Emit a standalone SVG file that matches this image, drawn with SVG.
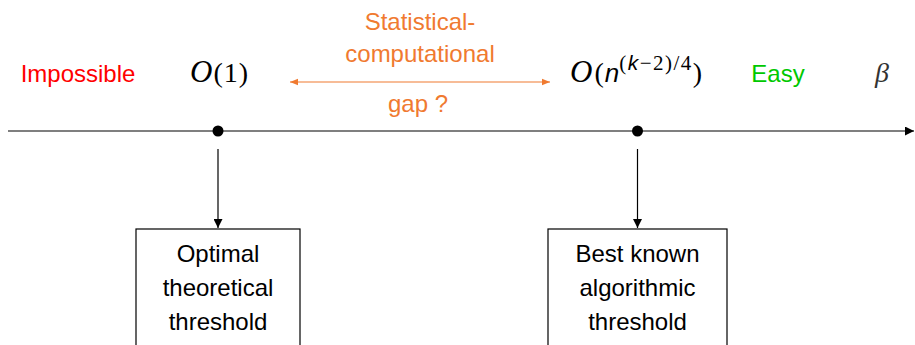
<svg xmlns="http://www.w3.org/2000/svg" width="915" height="345" viewBox="0 0 915 345">
<style>
.t{font-family:"Liberation Sans","DejaVu Sans",sans-serif;font-size:24px;text-anchor:middle}
.m{font-family:"Liberation Serif","DejaVu Serif",serif;font-size:28px}
.or{fill:#F07A30}
.ln{stroke:#000;stroke-width:1.2;fill:none}
.box{fill:#fff;stroke:#000;stroke-width:1.2}
</style>
<defs>
<marker id="ah" viewBox="0 0 10 10" refX="10" refY="5" markerWidth="9" markerHeight="9" markerUnits="userSpaceOnUse" orient="auto"><path d="M0,0L10,5L0,10z" fill="#000"/></marker>
<marker id="ao" viewBox="0 0 10 10" refX="10" refY="5" markerWidth="8" markerHeight="8" markerUnits="userSpaceOnUse" orient="auto-start-reverse"><path d="M0,1L10,5L0,9z" fill="#F07A30"/></marker>
</defs>
<g id="connectors">
<line class="ln" x1="8" y1="131" x2="914" y2="131" marker-end="url(#ah)"/>
<line class="ln" x1="218" y1="149" x2="218" y2="228" marker-end="url(#ah)"/>
<line class="ln" x1="637.5" y1="149" x2="637.5" y2="228" marker-end="url(#ah)"/>
<line x1="290" y1="82" x2="550" y2="82" stroke="#F07A30" stroke-width="1.2" marker-start="url(#ao)" marker-end="url(#ao)"/>
</g>
<g id="dot1"><circle cx="218" cy="131" r="5.5" fill="#000"/></g>
<g id="dot2"><circle cx="637.5" cy="131" r="5.5" fill="#000"/></g>
<g id="labels">
<text class="t" x="78" y="82" fill="#FF0000">Impossible</text>
<text class="m" x="190" y="82" letter-spacing="1"><tspan font-style="italic" font-size="31">O</tspan>(1)</text>
<text class="t or" x="420" y="30">Statistical-</text>
<text class="t or" x="420" y="62">computational</text>
<text class="t or" x="418" y="112">gap ?</text>
<text class="m" x="570" y="82"><tspan font-style="italic" font-size="31">O</tspan><tspan dx="2">(</tspan><tspan font-family="Liberation Sans,sans-serif" font-style="italic" font-size="26" dx="1">n</tspan><tspan font-size="21" dy="-12" letter-spacing="1.5">(<tspan font-family="Liberation Sans,sans-serif" font-style="italic">k</tspan>−2)/4</tspan><tspan dy="12">)</tspan></text>
<text class="t" x="778" y="82" fill="#00C800">Easy</text>
<text class="m" x="875" y="82" font-style="italic" fill="#333">β</text>
</g>
<g id="box1">
<rect class="box" x="136" y="229" width="164" height="130"/>
<text class="t" x="218" y="262">Optimal</text>
<text class="t" x="218" y="296">theoretical</text>
<text class="t" x="218" y="330">threshold</text>
</g>
<g id="box2">
<rect class="box" x="548" y="229" width="179" height="130"/>
<text class="t" x="637.5" y="262">Best known</text>
<text class="t" x="637.5" y="296">algorithmic</text>
<text class="t" x="637.5" y="330">threshold</text>
</g>
</svg>
